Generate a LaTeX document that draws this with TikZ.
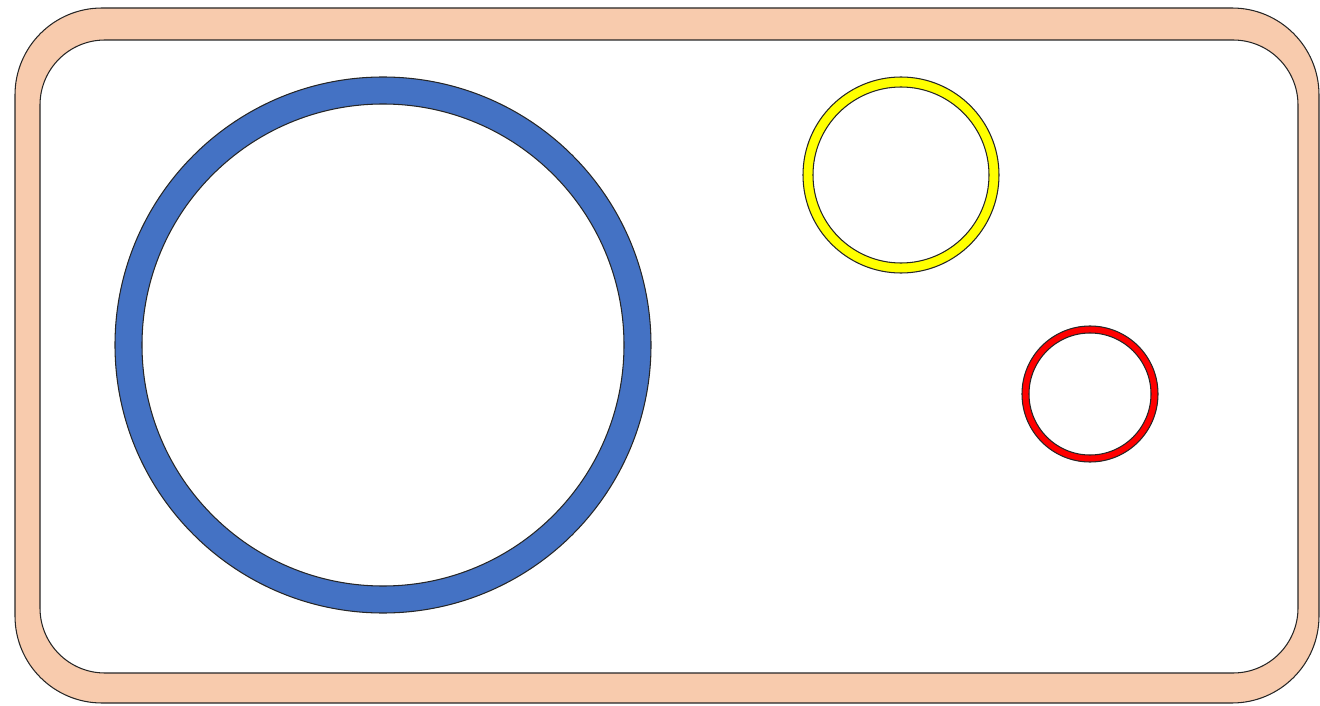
\documentclass[tikz,border=0pt]{standalone}
\usepackage{tikz}
\definecolor{cellpeach}{RGB}{248,203,173}
\definecolor{nucblue}{RGB}{68,114,196}
\definecolor{vesyellow}{RGB}{255,255,0}
\definecolor{vesred}{RGB}{255,0,0}

\begin{document}
\begin{tikzpicture}[x=0.02cm,y=-0.02cm]
\tikzstyle{edge}=[draw=black!85,line width=0.6pt]
\tikzstyle{ring}=[edge,even odd rule]
\useasboundingbox (0,0) rectangle (1320,706);
% cell wall
\path[ring,fill=cellpeach] (15,8) [rounded corners=1.74cm] rectangle (1319,703)
  (40,40) [rounded corners=1.3cm] rectangle (1298,673);
% nucleus and vesicles
\path[ring,fill=nucblue] (383,345) circle[radius=268] (383,345) circle[radius=241];
\path[ring,fill=vesyellow] (901,175) circle[radius=98] (901,175) circle[radius=88];
\path[ring,fill=vesred] (1090,394) circle[radius=68] (1090,394) circle[radius=61];
\end{tikzpicture}
\end{document}
